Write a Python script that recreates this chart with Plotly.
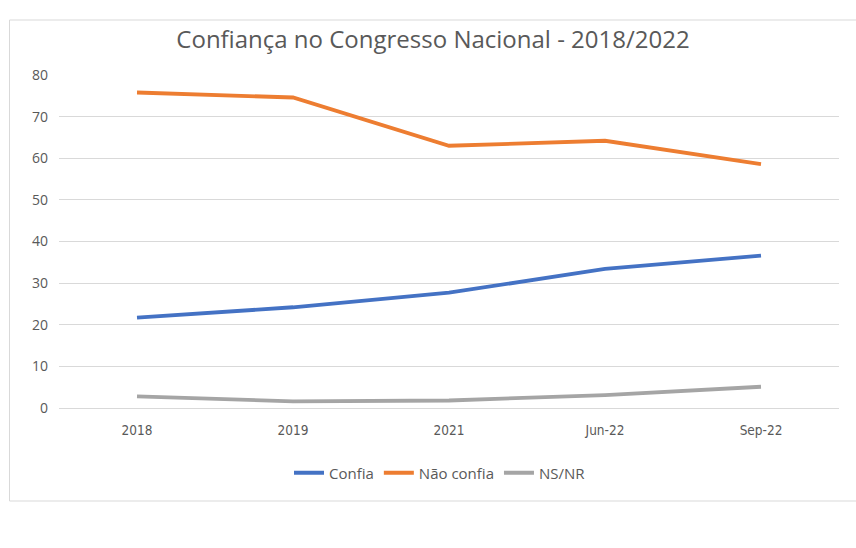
import plotly.graph_objects as go

categories = ["2018", "2019", "2021", "Jun-22", "Sep-22"]
confia = [21.7, 24.2, 27.7, 33.4, 36.6]
nao_confia = [75.8, 74.6, 63.0, 64.2, 58.6]
ns_nr = [2.8, 1.6, 1.8, 3.1, 5.1]
y_ticks = [0, 10, 20, 30, 40, 50, 60, 70, 80]

W, H = 856, 548
L, R, T, B = 59, 839, 75, 408

fig = go.Figure()
series = [("Confia", confia, "#4472C4"),
          ("Não confia", nao_confia, "#ED7D31"),
          ("NS/NR", ns_nr, "#A5A5A5")]
for name, vals, col in series:
    fig.add_trace(go.Scatter(x=categories, y=vals, name=name, mode="lines",
                             line=dict(color=col, width=3.8)))

pw, ph = R - L, B - T
def px_x(x):
    return (x - L) / pw
def px_y(y):
    return (B - y) / ph

fig.add_shape(type="rect", xref="paper", yref="paper",
              x0=px_x(9.5), x1=px_x(870), y0=px_y(501), y1=px_y(20),
              line=dict(color="#D9D9D9", width=1), fillcolor="rgba(0,0,0,0)", layer="below")

narrow = "DejaVu Sans Condensed, Open Sans, sans-serif"
fig.update_layout(
    width=W, height=H,
    margin=dict(l=L, r=W - R, t=T, b=H - B),
    paper_bgcolor="white", plot_bgcolor="white",
    title=dict(text="Confiança no Congresso Nacional - 2018/2022",
               font=dict(family="Open Sans, sans-serif", size=24, color="#595959"),
               x=433 / W, xanchor="center", xref="container",
               y=1 - 40 / H, yanchor="middle", yref="container"),
    xaxis=dict(type="category", range=[-0.5, 4.5], showgrid=False,
               showline=True, linecolor="#D9D9D9", linewidth=1,
               ticks="", tickfont=dict(family=narrow, size=13.5, color="#595959"),
               ticklabelstandoff=10, fixedrange=True),
    yaxis=dict(range=[0, 80], tickvals=y_ticks, showgrid=True, gridcolor="#D9D9D9",
               gridwidth=1, zeroline=False, showline=False, ticks="",
               tickfont=dict(family="Open Sans, sans-serif", size=14, color="#595959"),
               ticklabelstandoff=10, fixedrange=True),
    legend=dict(orientation="h", x=(440 - L) / pw, xanchor="center",
                y=px_y(473), yanchor="middle",
                font=dict(family="Open Sans, sans-serif", size=15, color="#595959"),
                itemwidth=30),
    showlegend=True,
)

fig.write_html("out.html", config={"displayModeBar": False},
               post_script="document.body.style.margin='0';document.body.style.padding='0';")
